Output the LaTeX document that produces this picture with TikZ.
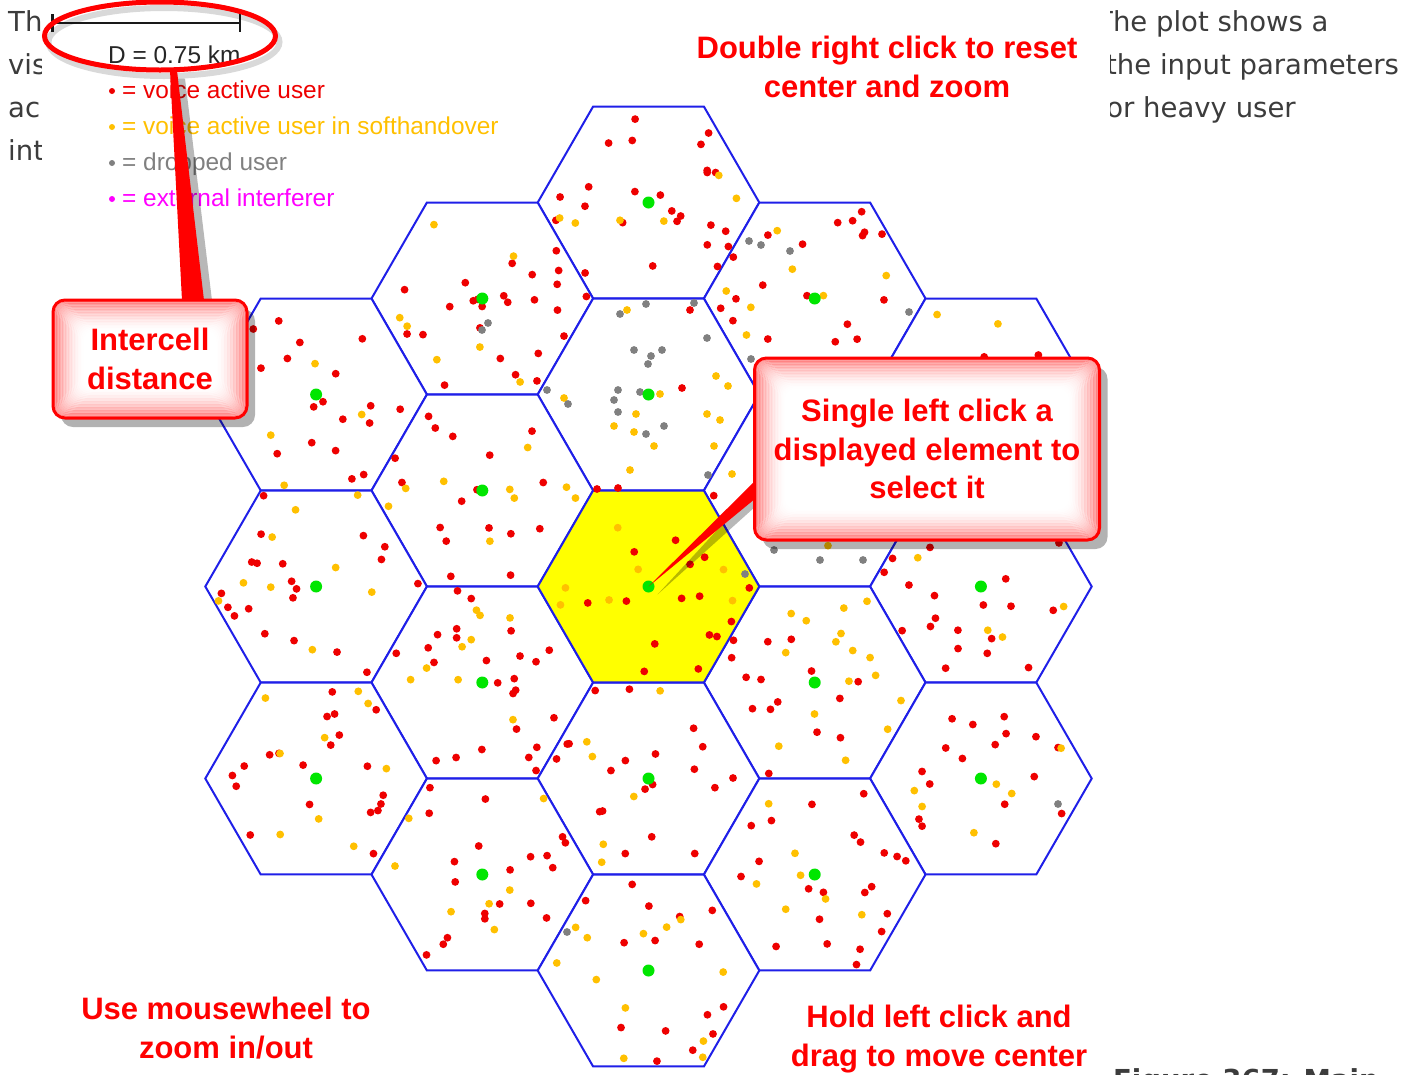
\documentclass[tikz,border=0pt]{standalone}
\usepackage{fontspec}
\setmainfont{Liberation Sans}
\newfontfamily\bodyfont{DejaVu Sans}
\usepackage{tikz}
\usetikzlibrary{positioning,calc,arrows.meta,shapes.geometric,shadows}
\pgfdeclarelayer{pointerlayer}
\pgfdeclarelayer{boxlayer}
\pgfsetlayers{main,pointerlayer,boxlayer}
\definecolor{cellblue}{HTML}{1F1FE8}
\definecolor{cellyellow}{HTML}{FFFF00}
\definecolor{userred}{HTML}{EE0000}
\definecolor{sohoyellow}{HTML}{FFC000}
\definecolor{dropgray}{HTML}{808080}
\definecolor{hubgreen}{HTML}{00E600}
\definecolor{extmagenta}{HTML}{FF00FF}
\definecolor{hintred}{HTML}{FF0000}
\definecolor{bodygray}{HTML}{3C3C3C}
\newcommand{\userdot}[2]{%
  \pgfmathsetmacro\ptk{60*random(0,5)}%
  \pgfmathsetmacro\ptu{rnd}%
  \pgfmathsetmacro\ptv{rnd}%
  \pgfmathsetmacro\ptw{\ptu+\ptv>1 ? 1 : 0}%
  \pgfmathsetmacro\ptu{\ptw==1 ? 1-\ptu : \ptu}%
  \pgfmathsetmacro\ptv{\ptw==1 ? 1-\ptv : \ptv}%
  \fill[#2] ($(#1)+({106*(\ptu*cos(\ptk)+\ptv*cos(\ptk+60))},{106*(\ptu*sin(\ptk)+\ptv*sin(\ptk+60))})$) circle (3.9pt);%
}

\begin{document}
\begin{tikzpicture}[x=1pt, y=-1pt,
  bodytext/.style={font=\bodyfont\fontsize{27.5}{43}\selectfont, text=bodygray,
    anchor=base west, inner sep=0pt},
  cell/.style={regular polygon, regular polygon sides=6, minimum size=221.6pt,
    inner sep=0pt, draw=cellblue, line width=2pt, fill=white},
  hubdot/.style={fill=hubgreen},
  legendtext/.style={font=\fontsize{24.4}{29}\selectfont, anchor=base west, inner sep=0pt},
  scalebar/.style={draw=black!90, line width=2.5pt, {Bar[width=18pt]}-{Bar[width=18pt]}},
  ring/.style={ellipse, draw=hintred, line width=5pt, minimum width=231pt,
    minimum height=68pt, inner sep=0pt},
  callout/.style={draw=hintred, line width=3pt, rounded corners=12pt, fill=white,
    align=center, text=hintred, font=\fontsize{31}{38.5}\selectfont\bfseries,
    drop shadow={shadow xshift=8pt, shadow yshift=-9pt, opacity=.3, fill=black},
    path picture={
      \foreach \g in {1,2.5,...,31}{
        \pgfmathsetmacro\gop{0.42*(1-\g/33)^2}
        \draw[hintred, line width=2pt, opacity=\gop, rounded corners=12pt]
          ($(path picture bounding box.south west)+(\g,-\g)$) rectangle
          ($(path picture bounding box.north east)+(-\g,\g)$);
      }
    }},
  pointer/.style={fill=hintred},
  pointershade/.style={fill=black, opacity=.28},
  hint/.style={font=\fontsize{31}{38.5}\selectfont\bfseries, text=hintred,
    align=center, inner sep=0pt}
]
\fill[white] (0,0) rectangle (1410,1074);
\useasboundingbox (0,0) rectangle (1410,1074);

\node[bodytext] (leftline1) at (8,31) {Th};
\node[bodytext] (leftline2) at (8,74) {vis};
\node[bodytext] (leftline3) at (8,117) {ac};
\node[bodytext] (leftline4) at (8,160) {int};
\node[bodytext] (rightline1) at (1096,31) {The plot shows a};
\node[bodytext] (rightline2) at (1106,74) {the input parameters};
\node[bodytext] (rightline3) at (1096.5,117) {for heavy user};
\node[bodytext, font=\bodyfont\bfseries\fontsize{27.5}{43}\selectfont] (caption)
  at (1113,1089) {Figure 367: Main};
\fill[white] (42,0) rectangle (1110,1074);

% cell grid
\foreach \q/\r in {0/-4,-1/-3,1/-3,-2/-2,0/-2,2/-2,-1/-1,1/-1,-2/0,2/0,
  -1/1,1/1,-2/2,0/2,2/2,-1/3,1/3,0/4}
  \node[cell] (c\q r\r) at ({648.5+166.2*(\q)},{586.5+96*(\r)}) {};
\node[cell, fill=cellyellow] (c0r0) at (648.5,586.5) {};
\coordinate (hub) at (c0r0);

% users
\foreach \q/\r/\nr/\ny/\sd in {0/-4/25/6/11, -1/-3/25/7/12, 1/-3/22/7/13,
  -2/-2/18/5/14, 2/-2/12/3/16, -1/-1/17/9/17, 1/-1/9/3/18, -2/0/20/9/19,
  0/0/15/7/20, 2/0/22/6/21, -1/1/25/9/22, 1/1/15/16/23, -2/2/20/9/24,
  0/2/20/6/25, 2/2/17/6/26, -1/3/20/7/27, 1/3/22/7/28, 0/4/15/12/29}{
  \pgfmathsetseed{\sd}
  \foreach \k in {1,...,\nr} {\userdot{c\q r\r}{userred}}
  \foreach \k in {1,...,\ny} {\userdot{c\q r\r}{sohoyellow}}
}
\foreach \x/\y in {690/310, 682/388, 597/489, 618/488}
  \fill[userred] (\x,\y) circle (3.9pt);
\foreach \x/\y in {627/310, 660/394, 636/414, 614/426, 634/432, 654/446, 630/470,
  716/376, 728/386, 707/414, 720/420, 714/446, 732/474, 564/398}
  \fill[sohoyellow] (\x,\y) circle (3.9pt);
\foreach \x/\y in {646/304, 620/314, 694/303, 707/338, 634/350, 651/356, 662/350,
  648/364, 547/390, 618/390, 640/392, 614/400, 568/404, 618/412, 664/426, 646/434,
  708/475, 751/359, 488/323, 482/330, 749/241, 761/245, 790/251, 909/312,
  774/550, 820/560, 863/560, 745/574, 1058/804, 567/932}
  \fill[dropgray] (\x,\y) circle (3.9pt);
\foreach \q/\r in {0/-4,-1/-3,1/-3,-2/-2,0/-2,2/-2,-1/-1,1/-1,-2/0,0/0,2/0,
  -1/1,1/1,-2/2,0/2,2/2,-1/3,1/3,0/4}
  \fill[hubdot] (c\q r\r) circle (6pt);

% legend and scale
\node[legendtext, text=userred] (legvoice) at (122,98) {= voice active user};
\node[legendtext, text=sohoyellow] (legsoho) at (122,134)
  {= voice active user in softhandover};
\node[legendtext, text=dropgray] (legdrop) at (122,170) {= dropped user};
\node[legendtext, text=extmagenta] (legext) at (122,206) {= external interferer};
\foreach \n/\c in {legvoice/userred, legsoho/sohoyellow, legdrop/dropgray,
  legext/extmagenta}
  \fill[\c] ($(\n.base west)+(-10,-7)$) circle (3pt);
\coordinate (barleft) at (51,23);
\coordinate (barright) at (241,23);
\draw[scalebar] (barleft) -- (barright);
\node[legendtext, text=black!85] (scaletext) at (108,63) {D = 0.75 km};
\draw[black, opacity=.15, line width=6pt] (164,42) ellipse [x radius=115.5pt, y radius=34pt];
\node[ring] (scalering) at (160,36) {};

\begin{pgfonlayer}{boxlayer}
\node[callout, minimum width=194pt, minimum height=118pt] (intercellbox)
  at (150,359) {Intercell\\distance};
\node[callout, minimum width=345pt, minimum height=182pt] (selectbox)
  at (927,449) {Single left click a\\displayed element to\\select it};
\node[hint] (resethint) at (887,67) {Double right click to reset\\center and zoom};
\node[hint] (wheelhint) at (226,1028) {Use mousewheel to\\zoom in/out};
\node[hint] (draghint) at (939,1039) {Hold left click and\\drag to move center};
\end{pgfonlayer}

\begin{pgfonlayer}{pointerlayer}
\fill[pointershade] ($(scalering.south)+(18,6)$) -- ($(scalering.south)+(25,6)$)
  -- ($(intercellbox.north)+(62,2)$) -- ($(intercellbox.north)+(40,2)$) -- cycle;
\fill[pointershade] ($(selectbox.west)+(3,39)$) -- ($(selectbox.west)+(3,57)$)
  -- ($(hub)+(9,8)$) -- cycle;
\fill[pointer] ($(scalering.south)+(10,-2)$) -- ($(scalering.south)+(17,-2)$)
  -- ($(intercellbox.north)+(54,2)$) -- ($(intercellbox.north)+(32,2)$) -- cycle;
\fill[pointer] ($(selectbox.west)+(3,31)$) -- ($(selectbox.west)+(3,49)$)
  -- (hub) -- cycle;
\end{pgfonlayer}
\end{tikzpicture}
\end{document}
